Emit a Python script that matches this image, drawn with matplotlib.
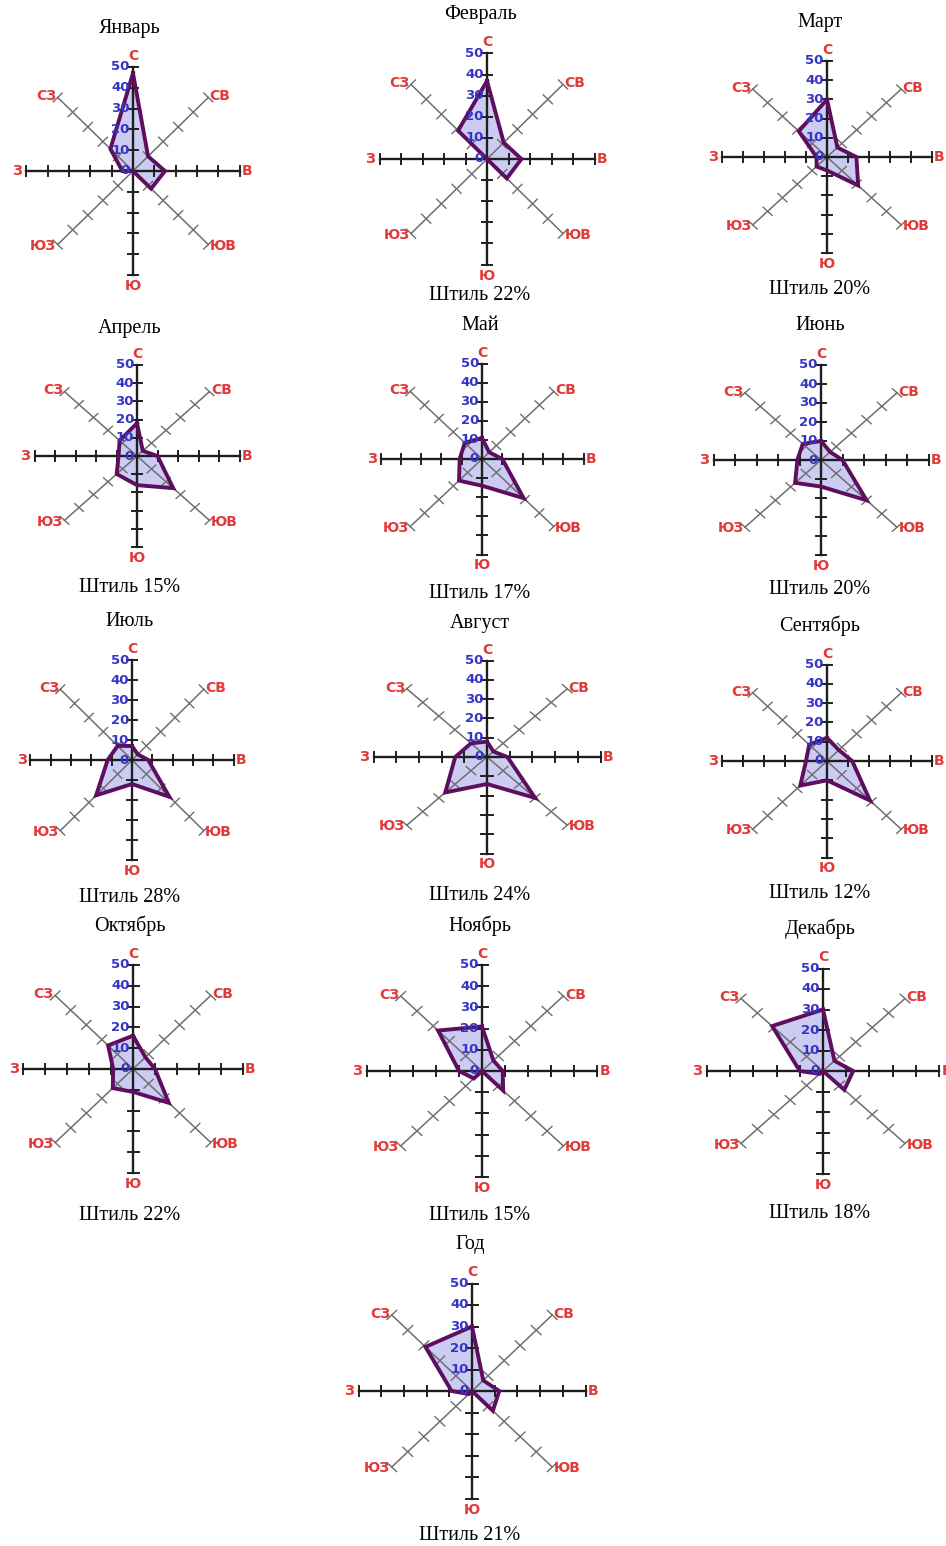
import numpy as np
import matplotlib.pyplot as plt

# wind rose: повторяемость направлений ветра, %
directions = ['С', 'СВ', 'В', 'ЮВ', 'Ю', 'ЮЗ', 'З', 'СЗ']
months = ['Январь', 'Февраль', 'Март', 'Апрель', 'Май', 'Июнь', 'Июль',
          'Август', 'Сентябрь', 'Октябрь', 'Ноябрь', 'Декабрь', 'Год']
calm = [None, 22, 20, 15, 17, 20, 28, 24, 12, 22, 15, 18, 21]

#       С   СВ  В   ЮВ  Ю   ЮЗ  З   СЗ
jan  = [47, 10, 15, 12, 0,  0,  5,  15]
feb  = [37, 11, 16, 13, 0,  0,  0,  19]
mar  = [30, 7,  14, 21, 7,  7,  5,  19]
apr  = [18, 4,  10, 25, 16, 14, 9,  12]
may  = [11, 5,  10, 29, 14, 16, 11, 12]
jun  = [10, 6,  10, 30, 14, 17, 11, 12]
jul  = [7,  4,  8,  26, 12, 25, 12, 10]
aug  = [8,  4,  9,  30, 14, 26, 14, 10]
sep  = [12, 8,  12, 29, 10, 18, 10, 12]
octo = [16, 8,  10, 23, 11, 13, 9,  16]
nov  = [21, 7,  9,  13, 0,  5,  10, 27]
dec  = [30, 7,  13, 13, 0,  2,  10, 31]
year = [30, 7,  12, 13, 0,  2,  9,  29]
roses = [jan, feb, mar, apr, may, jun, jul, aug, sep, octo, nov, dec, year]

W, H = 946, 1546
# chart centre (px), px per 10 units in x and y
centers = [(133, 171), (487, 159), (827, 157),
           (137, 456), (482, 459), (821, 460),
           (132, 760), (487, 757), (827, 761),
           (133, 1069), (482, 1071), (823, 1071),
           (472, 1391)]
scales = [(21.3, 20.8), (21.5, 21.1), (21.0, 19.2),
          (20.5, 18.2), (20.3, 19.1), (21.5, 19.0),
          (20.3, 20.0), (22.7, 19.3), (21.0, 19.3),
          (22.0, 20.8), (23.0, 21.2), (23.2, 20.5),
          (22.7, 21.5)]
title_pos = [(130, 28), (480, 15), (820, 22), (130, 329), (480, 325), (820, 326),
             (130, 621), (480, 623), (820, 626), (130, 926), (480, 926), (820, 929),
             (470, 1244)]
calm_pos = [None, (480, 296), (820, 290), (130, 588), (480, 593), (820, 590),
            (130, 898), (480, 896), (820, 893), (130, 1215), (480, 1215), (820, 1213),
            (470, 1535)]

angles = np.deg2rad([90, 45, 0, -45, -90, -135, 180, 135])
RED = '#e23a3a'
BLUE = '#3434c8'
serif = 'Liberation Serif'
sans = 'DejaVu Sans'

fig = plt.figure(figsize=(W / 100, H / 100), dpi=100)


def draw_rose(ax, vals):
    R = 50
    # diagonals (grey)
    for a in angles[1::2]:
        ax.plot([0, R * np.cos(a)], [0, R * np.sin(a)], color='#6e6e6e', lw=1.1, zorder=2)
        px, py = -np.sin(a), np.cos(a)
        for d in range(10, 51, 10):
            x0, y0 = d * np.cos(a), d * np.sin(a)
            ax.plot([x0 - 3 * px, x0 + 3 * px], [y0 - 3 * py, y0 + 3 * py],
                    color='#6e6e6e', lw=1.0, zorder=2)
    # main cross
    ax.plot([-R, R], [0, 0], color='#1e1e1e', lw=1.7, zorder=2)
    ax.plot([0, 0], [-R, R], color='#1e1e1e', lw=1.7, zorder=2)
    for d in range(10, 51, 10):
        for s in (-1, 1):
            ax.plot([s * d, s * d], [-2.5, 2.5], color='#1e1e1e', lw=1.4, zorder=2)
            ax.plot([-2.5, 2.5], [s * d, s * d], color='#1e1e1e', lw=1.4, zorder=2)
    # polygon
    r = np.array(vals, dtype=float)
    x = np.append(r * np.cos(angles), r[0] * np.cos(angles[0]))
    y = np.append(r * np.sin(angles), r[0] * np.sin(angles[0]))
    ax.fill(x, y, color='#c4c4f2', alpha=0.85, zorder=1, lw=0)
    ax.plot(x, y, color='#5e0e5e', lw=2.8, zorder=3, solid_joinstyle='miter')
    # scale numbers
    for v in range(0, 51, 10):
        ax.text(-1.5, v, str(v), color=BLUE, fontsize=9.5, fontweight='bold',
                family=sans, ha='right', va='center', zorder=4)
    # direction labels
    kw = dict(color=RED, fontsize=10, fontweight='bold', family=sans, zorder=4)
    ax.text(0, 52, 'С', ha='center', va='bottom', **kw)
    ax.text(0, -52, 'Ю', ha='center', va='top', **kw)
    ax.text(51, 0, 'В', ha='left', va='center', **kw)
    ax.text(-52, 0, 'З', ha='right', va='center', **kw)
    ax.text(36, 36, 'СВ', ha='left', va='center', **kw)
    ax.text(-36, 36, 'СЗ', ha='right', va='center', **kw)
    ax.text(36, -36, 'ЮВ', ha='left', va='center', **kw)
    ax.text(-36, -36, 'ЮЗ', ha='right', va='center', **kw)


L = 75
for i, vals in enumerate(roses):
    cx, cy = centers[i]
    sx, sy = scales[i]
    wpx, hpx = 2 * L * sx / 10, 2 * L * sy / 10
    ax = fig.add_axes([(cx - wpx / 2) / W, (H - cy - hpx / 2) / H, wpx / W, hpx / H])
    ax.set_xlim(-L, L)
    ax.set_ylim(-L, L)
    ax.axis('off')
    draw_rose(ax, vals)

    tx, ty = title_pos[i]
    fig.text(tx / W, 1 - ty / H, months[i], family=serif, fontsize=14.5,
             ha='center', va='center')
    if calm[i] is not None:
        qx, qy = calm_pos[i]
        fig.text(qx / W, 1 - qy / H, 'Штиль %d%%' % calm[i], family=serif,
                 fontsize=14.5, ha='center', va='center')

fig.savefig('out.png', dpi=100)
